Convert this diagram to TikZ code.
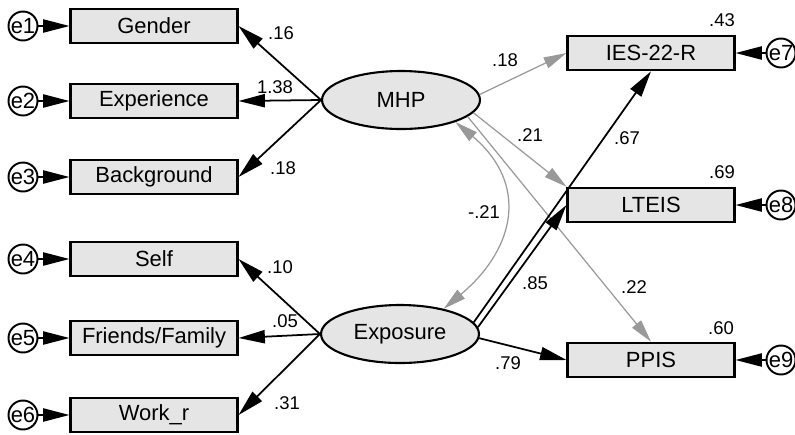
\documentclass[tikz,border=0pt]{standalone}
\usepackage{fontspec}
\setmainfont{Liberation Sans}
\usetikzlibrary{arrows.meta,shapes.geometric}

\begin{document}
\begin{tikzpicture}[
    x=0.02cm, y=-0.02cm,
    obs/.style={draw, line width=1.2pt, fill=black!10, minimum width=3.34cm,
        minimum height=0.69cm, inner sep=0pt, font=\fontsize{12.5}{14}\selectfont},
    lat/.style={draw, ellipse, line width=1.2pt, fill=black!10, minimum width=3.16cm,
        minimum height=1.16cm, inner sep=0pt, font=\fontsize{12.5}{14}\selectfont},
    err/.style={draw, circle, line width=1.1pt, fill=white, minimum size=0.58cm,
        inner sep=0pt, font=\fontsize{12.5}{14}\selectfont},
    coef/.style={inner sep=0pt, font=\fontsize{10.5}{12}\selectfont},
    reg/.style={-{Triangle[length=15pt,width=7.5pt]}, line width=1pt},
    regg/.style={-{Triangle[length=13pt,width=6.5pt]}, line width=0.7pt, draw=black!40},
    cov/.style={{Triangle[length=13pt,width=6.5pt]}-{Triangle[length=13pt,width=6.5pt]},
        line width=0.7pt, draw=black!40}
]
\useasboundingbox (0,0) rectangle (795,434);

\node[lat] (MHP) at (401,100) {MHP};
\node[lat] (Exp) at (400,334) {Exposure};

\node[obs] (Gen) at (154,26) {Gender};
\node[obs] (Expr) at (154,101) {Experience};
\node[obs] (Back) at (154,177) {Background};
\node[obs] (Self) at (154,259) {Self};
\node[obs] (Fam) at (154,338) {Friends/Family};
\node[obs] (Work) at (154,415) {Work\_r};

\node[obs] (IES) at (651,53) {IES-22-R};
\node[obs] (LTE) at (651,205) {LTEIS};
\node[obs] (PPI) at (651,360) {PPIS};

\node[err] (e1) at (23,26) {e1};
\node[err] (e2) at (23,101) {e2};
\node[err] (e3) at (23,177) {e3};
\node[err] (e4) at (23,259) {e4};
\node[err] (e5) at (23,338) {e5};
\node[err] (e6) at (23,415) {e6};
\node[err] (e7) at (781,53) {e7};
\node[err] (e8) at (781,205) {e8};
\node[err] (e9) at (781,360) {e9};

\draw[reg] (e1) -- (Gen);
\draw[reg] (e2) -- (Expr);
\draw[reg] (e3) -- (Back);
\draw[reg] (e4) -- (Self);
\draw[reg] (e5) -- (Fam);
\draw[reg] (e6) -- (Work);
\draw[reg] (e7) -- (IES);
\draw[reg] (e8) -- (LTE);
\draw[reg] (e9) -- (PPI);

\draw[reg] (MHP.west) -- (Gen.east);
\draw[reg] (MHP.west) -- (Expr.east);
\draw[reg] (MHP.west) -- (Back.east);
\draw[reg] (Exp.west) -- (Self.east);
\draw[reg] (Exp.west) -- (Fam.east);
\draw[reg] (Exp.west) -- (Work.east);

\draw[regg] (MHP.4) -- (IES.west);
\draw[regg] (MHP.-10) -- (LTE.north west);
\draw[regg] (MHP.-14) -- (PPI.north);
\draw[reg] (Exp.9) -- (IES.south);
\draw[reg] (Exp.5) -- (LTE.west);
\draw[reg] (Exp.-3) -- (PPI.west);

\draw[cov] (MHP.-22) to[out=-40, in=40, looseness=1.3] (Exp.30);

\node[coef] (c1) at (281,33) {.16};
\node[coef] (c2) at (275,87) {1.38};
\node[coef] (c3) at (283,168) {.18};
\node[coef] (c4) at (280,267) {.10};
\node[coef] (c5) at (285,321) {.05};
\node[coef] (c6) at (287,403) {.31};
\node[coef] (c7) at (505,60) {.18};
\node[coef] (c8) at (530,135) {.21};
\node[coef] (c9) at (634,287) {.22};
\node[coef] (c10) at (627,138) {.67};
\node[coef] (c11) at (535,283) {.85};
\node[coef] (c12) at (508,363) {.79};
\node[coef] (c13) at (484,212) {-.21};
\node[coef] (r1) at (722,20) {.43};
\node[coef] (r2) at (722,172) {.69};
\node[coef] (r3) at (721,328) {.60};
\end{tikzpicture}
\end{document}
